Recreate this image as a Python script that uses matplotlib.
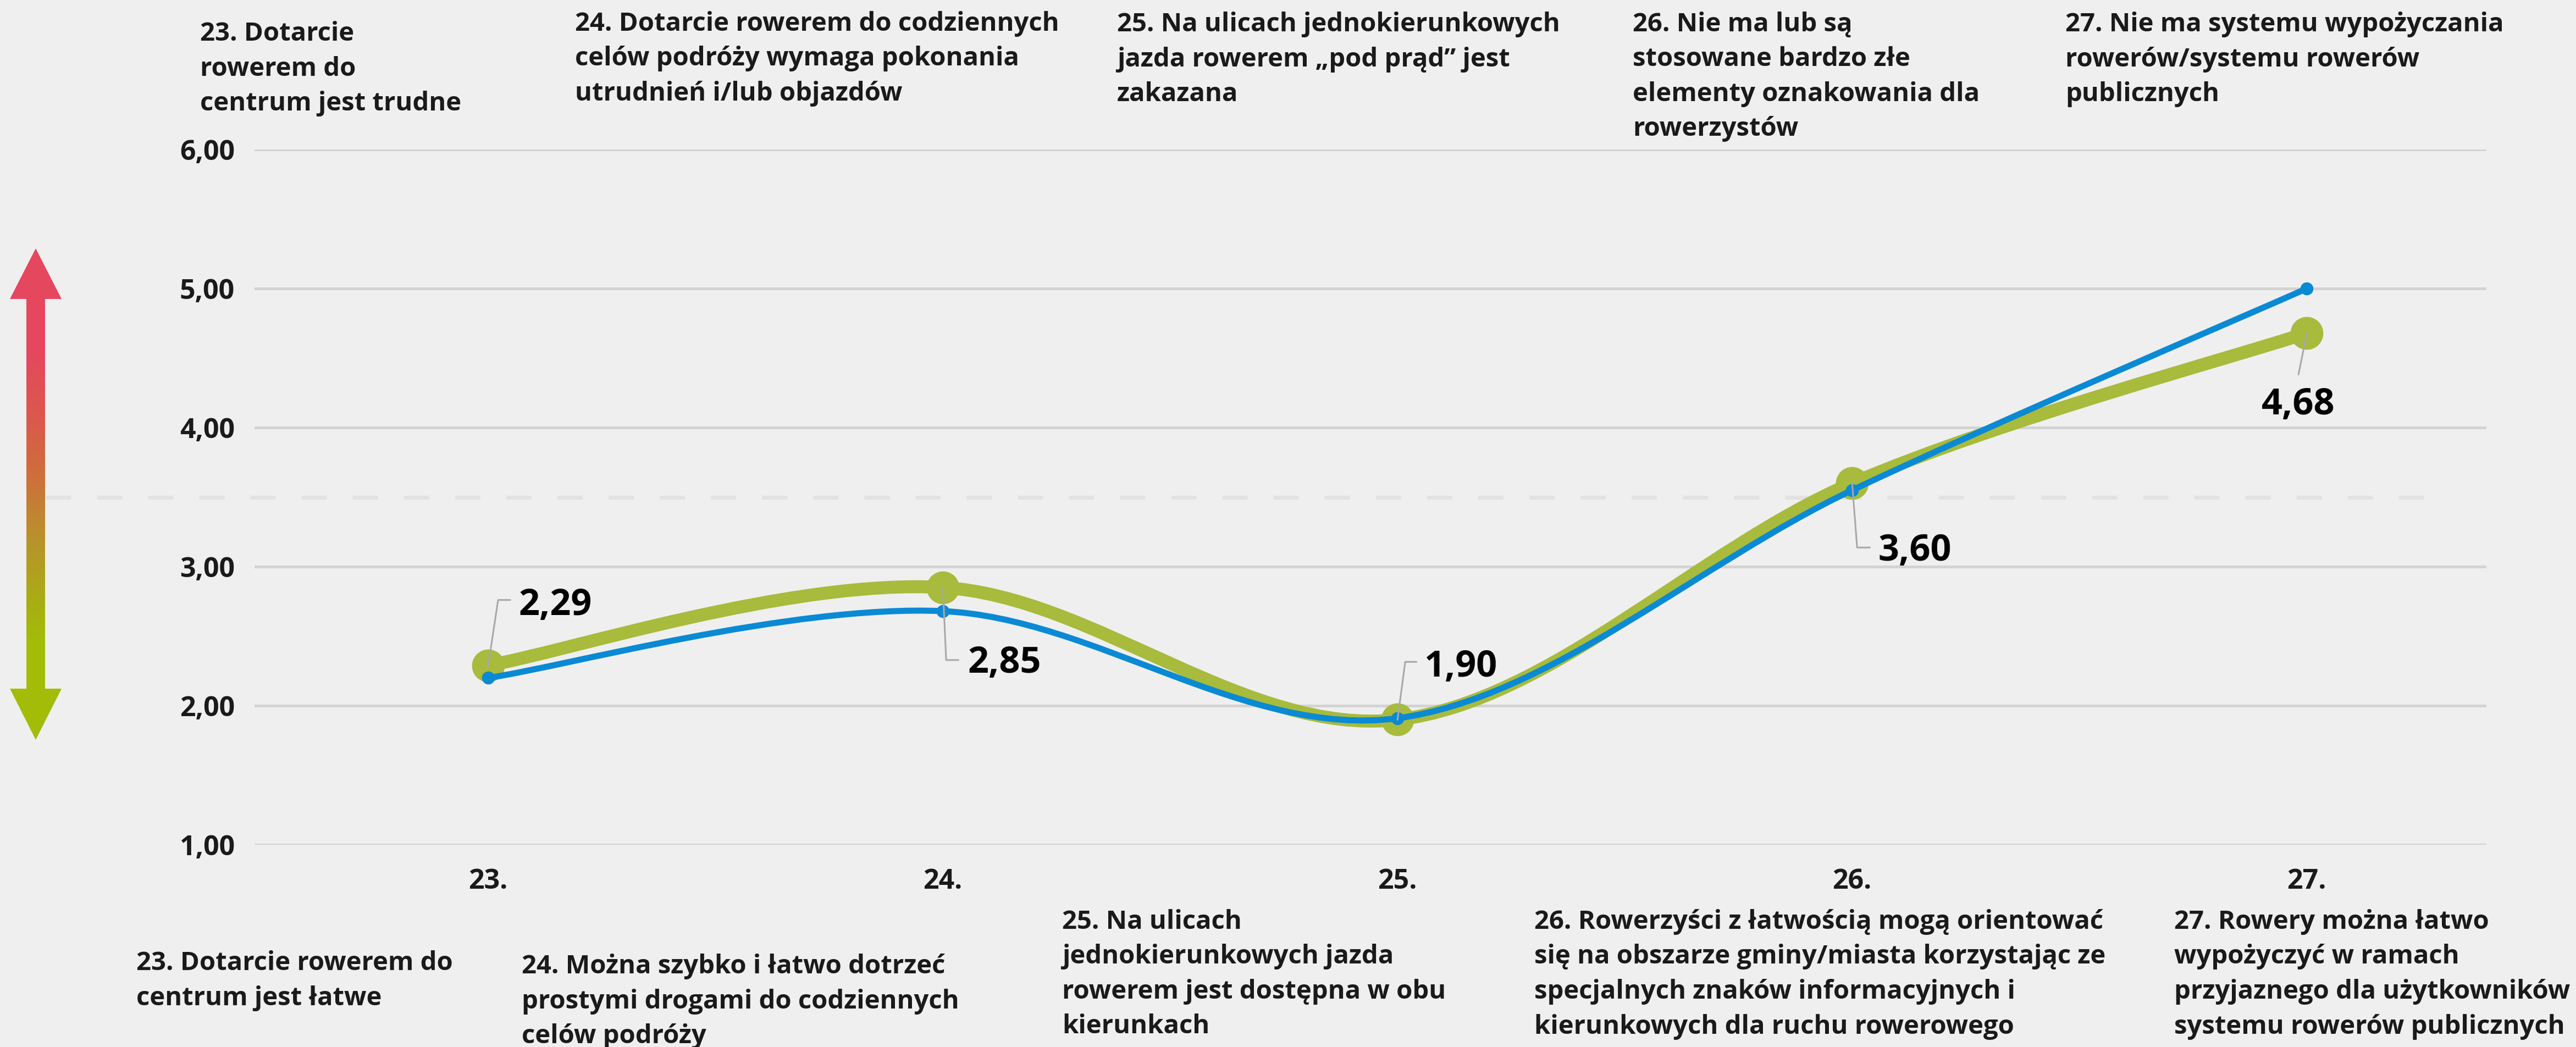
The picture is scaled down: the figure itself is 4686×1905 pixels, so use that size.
#!/usr/bin/env python3
# Line chart: bicycle infrastructure scores, questions 23-27

import numpy as np
import matplotlib
matplotlib.use("Agg")
import matplotlib.pyplot as plt
from matplotlib.path import Path
from matplotlib.patches import PathPatch, Polygon
from matplotlib.colors import LinearSegmentedColormap
from matplotlib.lines import Line2D
import matplotlib.transforms as mtransforms

# ---- data ----
categories = ["23.", "24.", "25.", "26.", "27."]
green_values = [2.29, 2.85, 1.90, 3.60, 4.68]
blue_values = [2.20, 2.68, 1.91, 3.55, 5.00]
y_ticks = [1, 2, 3, 4, 5, 6]
middle_value = 3.5

top_texts = [
    "23. Dotarcie\nrowerem do\ncentrum jest trudne",
    "24. Dotarcie rowerem do codziennych\ncelów podróży wymaga pokonania\nutrudnień i/lub objazdów",
    "25. Na ulicach jednokierunkowych\njazda rowerem „pod prąd” jest\nzakazana",
    "26. Nie ma lub są\nstosowane bardzo złe\nelementy oznakowania dla\nrowerzystów",
    "27. Nie ma systemu wypożyczania\nrowerów/systemu rowerów\npublicznych",
]
bottom_texts = [
    "23. Dotarcie rowerem do\ncentrum jest łatwe",
    "24. Można szybko i łatwo dotrzeć\nprostymi drogami do codziennych\ncelów podróży",
    "25. Na ulicach\njednokierunkowych jazda\nrowerem jest dostępna w obu\nkierunkach",
    "26. Rowerzyści z łatwością mogą orientować\nsię na obszarze gminy/miasta korzystając ze\nspecjalnych znaków informacyjnych i\nkierunkowych dla ruchu rowerowego",
    "27. Rowery można łatwo\nwypożyczyć w ramach\nprzyjaznego dla użytkowników\nsystemu rowerów publicznych",
]

# ---- layout (pixels in the 4686x1905 output) ----
W, H = 4686, 1905
LINE_STEP = 63.5
# left x and first-line baseline y of each text block
top_pos = [(364, 74), (1046, 56), (2032, 57), (2970, 57), (3757, 57)]
bottom_pos = [(248, 1765), (949, 1771), (1932, 1690), (2791, 1690), (3955, 1690)]
# leader polyline offsets and label baseline offset from each green point (px, y up)
leaders = [
    [(18, 119), (40, 119)],
    [(6, -132), (28, -132)],
    [(14, 105), (34, 105)],
    [(9, -117), (32, -117)],
    [(-15, -75)],
]
label_offsets = [(55, 92, "left"), (45, -155, "left"), (48, 78, "left"),
                 (47, -141, "left"), (-16, -148, "center")]

BG = "#efefef"
GREEN = "#a8bb3c"
BLUE = "#0a8ad4"
TEXT = "#1a1a1a"
FONT = ["Open Sans", "DejaVu Sans"]

plt.rcParams["font.family"] = FONT


def smooth_path(xs, ys):
    # bezier path through the points, control points like Excel smoothing
    pts = np.column_stack([xs, ys]).astype(float)
    n = len(pts)
    verts = [pts[0]]
    codes = [Path.MOVETO]
    for i in range(n - 1):
        p_prev = pts[max(i - 1, 0)]
        p0 = pts[i]
        p1 = pts[i + 1]
        p_next = pts[min(i + 2, n - 1)]
        c1 = p0 + (p1 - p_prev) / 6.0
        c2 = p1 - (p_next - p0) / 6.0
        verts += [c1, c2, p1]
        codes += [Path.CURVE4] * 3
    return Path(verts, codes)


def text_block(fig, txt, left, baseline):
    # one Text per line so every baseline sits where the reference has it
    for k, line in enumerate(txt.split("\n")):
        fig.text(left / W, 1 - (baseline + k * LINE_STEP) / H, line,
                 ha="left", va="baseline", fontsize=34, fontweight="bold",
                 color=TEXT)


fig = plt.figure(figsize=(W / 100, H / 100), dpi=100, facecolor=BG)
ax = fig.add_axes([463 / W, 1 - 1537 / H, (4523 - 463) / W, (1537 - 272) / H])
ax.set_facecolor(BG)
x = np.arange(len(categories))
ax.set_xlim(-0.514, 4.395)
ax.set_ylim(1, 6)

for s in ax.spines.values():
    s.set_visible(False)
ax.set_yticks(y_ticks)
ax.set_yticklabels([f"{v:.2f}".replace(".", ",") for v in y_ticks],
                   fontsize=36, fontweight="bold", color=TEXT)
ax.set_xticks(x)
ax.set_xticklabels(categories, fontsize=36, fontweight="bold", color=TEXT)
ax.tick_params(axis="y", length=0, pad=26)
ax.tick_params(axis="x", length=0, pad=30)
ax.grid(axis="y", color="#d3d3d3", linewidth=3.6, zorder=0)
ax.set_axisbelow(True)

# dashed middle line, runs from the arrow across the chart
blend = mtransforms.blended_transform_factory(fig.transFigure, ax.transData)
ax.plot([83 / W, 4448 / W], [middle_value, middle_value], transform=blend,
        color="#e2e2e2", linewidth=5, dashes=(6.6, 6.8), clip_on=False, zorder=1)

# smoothed series
ax.add_patch(PathPatch(smooth_path(x, green_values), fill=False, edgecolor=GREEN,
                       linewidth=17, capstyle="round", joinstyle="round", zorder=3))
ax.plot(x, green_values, "o", color=GREEN, markersize=42, zorder=3)
ax.add_patch(PathPatch(smooth_path(x, blue_values), fill=False, edgecolor=BLUE,
                       linewidth=8, capstyle="round", joinstyle="round", zorder=4))
ax.plot(x, blue_values, "o", color=BLUE, markersize=16, zorder=4)

# value labels with leader lines
fig.canvas.draw()
for i, v in enumerate(green_values):
    px, py = ax.transData.transform((x[i], v))
    xs = [px] + [px + dx for dx, dy in leaders[i]]
    ys = [py] + [py + dy for dx, dy in leaders[i]]
    fig.add_artist(Line2D(xs, ys, transform=None, color="#a8a8a8",
                          linewidth=2.2, zorder=6))
    dx, dy, ha = label_offsets[i]
    fig.text((px + dx) / W, (py + dy) / H, f"{v:.2f}".replace(".", ","),
             ha=ha, va="baseline", fontsize=48, fontweight="bold",
             color="#000000", zorder=7)

# question texts above and below
for txt, (tx, ty) in zip(top_texts, top_pos):
    text_block(fig, txt, tx, ty)
for txt, (tx, ty) in zip(bottom_texts, bottom_pos):
    text_block(fig, txt, tx, ty)

# gradient double arrow on the left (red = worse, green = better)
cx, shaft, head = 65, 17, 47
y_top, y_head1, y_head2, y_bot = 452, 544, 1253, 1346
arrow_px = [(cx, y_top), (cx + head, y_head1), (cx + shaft, y_head1),
            (cx + shaft, y_head2), (cx + head, y_head2), (cx, y_bot),
            (cx - head, y_head2), (cx - shaft, y_head2), (cx - shaft, y_head1),
            (cx - head, y_head1)]
arrow_ax = fig.add_axes([0, 0, 1, 1], zorder=2)
arrow_ax.set_xlim(0, W)
arrow_ax.set_ylim(H, 0)
arrow_ax.axis("off")
arrow_ax.patch.set_alpha(0)
cmap = LinearSegmentedColormap.from_list(
    "arrow", [(0.0, "#e5475f"), (0.2, "#e5475f"), (0.32, "#dc5650"),
              (0.45, "#d06c3c"), (0.6, "#b8942a"), (0.72, "#a8ae14"),
              (0.8, "#a3bc08"), (1.0, "#a3bc08")])
grad = np.linspace(0, 1, 256).reshape(-1, 1)
img = arrow_ax.imshow(grad, cmap=cmap, aspect="auto",
                      extent=(cx - head, cx + head, y_bot, y_top), zorder=2)
poly = Polygon(arrow_px, closed=True, transform=arrow_ax.transData,
               facecolor="none", edgecolor="none")
arrow_ax.add_patch(poly)
img.set_clip_path(poly)

fig.savefig("out.png", dpi=100, facecolor=BG)
